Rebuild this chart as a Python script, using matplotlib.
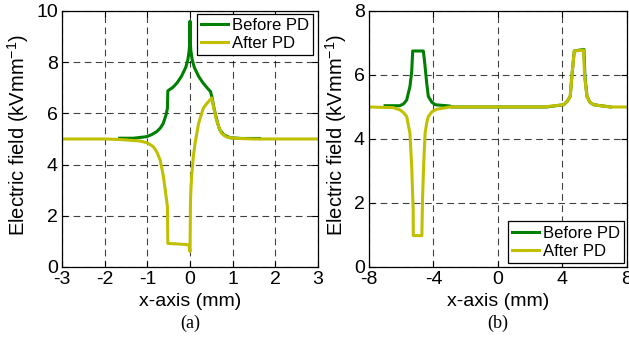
import matplotlib.pyplot as plt
import numpy as np

# (a) field along x, zoomed around the void (mm, kV/mm)
xa_before = [-1.65, -1.33, -1.02, -0.9, -0.78, -0.7, -0.63, -0.56, -0.53, -0.52,
             -0.4, -0.3, -0.2, -0.1, -0.05, -0.02, -0.005, 0.0, 0.005,
             0.02, 0.05, 0.1, 0.2, 0.3, 0.4, 0.48, 0.52, 0.55, 0.59, 0.65,
             0.7, 0.8, 0.94, 1.2, 1.63]
ya_before = [5.03, 5.03, 5.09, 5.17, 5.29, 5.42, 5.6, 5.95, 6.2, 6.88,
             7.02, 7.2, 7.45, 7.8, 8.1, 8.45, 8.8, 9.6, 8.8,
             8.45, 8.1, 7.8, 7.45, 7.2, 7.0, 6.85, 6.6, 6.3, 6.0, 5.6,
             5.35, 5.15, 5.05, 5.02, 5.02]

xa_after = [-3.0, -2.0, -1.64, -1.17, -1.0, -0.86, -0.78, -0.7, -0.63, -0.58, -0.53,
            -0.52, -0.3, -0.1, -0.02, 0.0, 0.01, 0.02, 0.04, 0.08, 0.12, 0.2,
            0.31, 0.4, 0.48, 0.51, 0.55, 0.62, 0.68, 0.74, 0.85, 1.01, 1.5, 3.0]
ya_after = [5.0, 5.0, 4.98, 4.92, 4.85, 4.7, 4.5, 4.18, 3.6, 3.0, 2.36,
            0.92, 0.9, 0.88, 0.85, 0.6, 2.5, 3.0, 3.6, 4.35, 4.85, 5.6,
            6.2, 6.4, 6.55, 6.6, 6.26, 5.74, 5.45, 5.22, 5.08, 5.03, 5.0, 5.0]

# (b) field along the full gap
xb_before = [-7.0, -6.08, -5.85, -5.66, -5.46, -5.35, -5.29, -4.63, -4.57, -4.52,
             -4.42, -4.32, -4.1, -3.9, -2.98, -2.9, 3.0, 4.07, 4.3, 4.48,
             4.58, 4.73, 5.33, 5.39, 5.52, 5.7, 5.93, 6.97]
yb_before = [5.04, 5.04, 5.1, 5.22, 5.64, 6.1, 6.75, 6.75, 6.5, 6.26,
             5.75, 5.33, 5.15, 5.07, 5.03, 5.0, 5.0, 5.07, 5.18, 5.33,
             5.95, 6.75, 6.8, 5.95, 5.33, 5.15, 5.07, 5.0]

xb_after = [-8.0, -6.5, -6.08, -5.85, -5.66, -5.46, -5.35, -5.26, -5.25, -4.72,
            -4.68, -4.6, -4.52, -4.42, -4.32, -4.1, -3.8, -2.97, 2.83, 4.07,
            4.3, 4.48, 4.58, 4.73, 5.31, 5.37, 5.52, 5.7, 5.93, 6.97, 8.0]
yb_after = [5.0, 4.98, 4.91, 4.82, 4.7, 4.18, 3.14, 1.8, 0.98, 0.98,
            2.1, 3.3, 4.18, 4.5, 4.7, 4.85, 4.93, 5.0, 5.0, 5.07,
            5.18, 5.33, 5.95, 6.75, 6.78, 5.95, 5.33, 5.15, 5.07, 5.0, 5.0]

green = '#008000'
yellow = '#c0c000'

plt.rcParams['font.family'] = ['Liberation Sans', 'DejaVu Sans']
plt.rcParams['font.size'] = 14
plt.rcParams['axes.unicode_minus'] = False
plt.rcParams['mathtext.fontset'] = 'custom'
plt.rcParams['mathtext.rm'] = 'Liberation Sans'

fig = plt.figure(figsize=(6.29, 3.39), dpi=100)
ax1 = fig.add_axes([0.0986, 0.2124, 0.407, 0.7552])
ax2 = fig.add_axes([0.5866, 0.2124, 0.4102, 0.7552])


def style(ax, xticks, yticks, ylab_x):
    ax.set_xticks(xticks)
    ax.set_yticks(yticks)
    ax.set_xlim(xticks[0], xticks[-1])
    ax.set_ylim(yticks[0], yticks[-1])
    ax.grid(True, color='black', linestyle=(0, (6, 4)), linewidth=0.8, alpha=0.75)
    ax.tick_params(direction='in', length=4, width=0.8, top=True, right=True,
                   pad=3, labelsize=14)
    for s in ax.spines.values():
        s.set_linewidth(0.9)
    ax.set_xlabel('x-axis (mm)', fontsize=14)
    ax.set_ylabel('Electric field (kVmm$^{-1}$)', fontsize=14.5)
    ax.xaxis.set_label_coords(0.5, -0.10)
    ax.yaxis.set_label_coords(ylab_x, 0.515)


def add_legend(ax, loc, anchor):
    leg = ax.legend(loc=loc, bbox_to_anchor=anchor, borderaxespad=0,
                    fancybox=False, edgecolor='black', framealpha=1,
                    handlelength=1.6, handletextpad=0.25, labelspacing=0.2,
                    borderpad=0.25, fontsize=12)
    leg.get_frame().set_linewidth(0.9)


ax1.plot(xa_before, ya_before, color=green, lw=2.2, label='Before PD')
ax1.plot(xa_after, ya_after, color=yellow, lw=2.2, label='After PD')
style(ax1, [-3, -2, -1, 0, 1, 2, 3], [0, 2, 4, 6, 8, 10], -0.122)
add_legend(ax1, 'upper right', (0.98, 0.99))

ax2.plot(xb_before, yb_before, color=green, lw=2.2, label='Before PD')
ax2.plot(xb_after, yb_after, color=yellow, lw=2.2, label='After PD')
style(ax2, [-8, -4, 0, 4, 8], [0, 2, 4, 6, 8], -0.078)
add_legend(ax2, 'lower right', (0.99, 0.015))

fig.text(0.302, 0.047, '(a)', ha='center', va='center',
         family='Liberation Serif', fontsize=13)
fig.text(0.792, 0.047, '(b)', ha='center', va='center',
         family='Liberation Serif', fontsize=13)

fig.savefig('out.png', dpi=100)
